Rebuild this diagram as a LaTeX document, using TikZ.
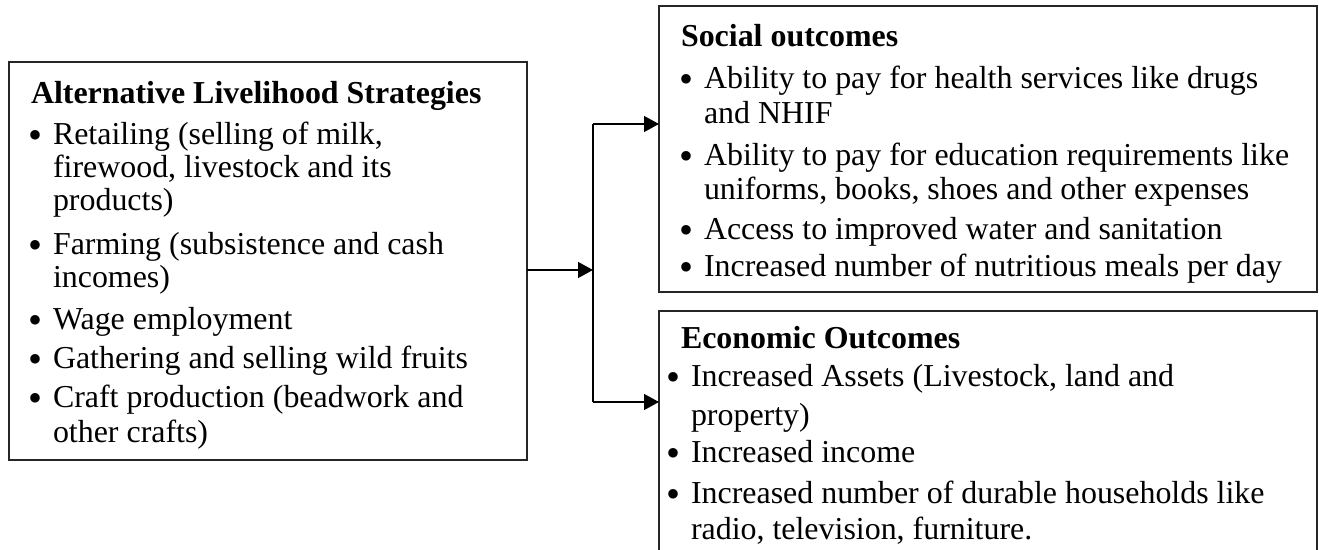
\documentclass[tikz,border=0pt]{standalone}
\usepackage{fontspec}
\setmainfont{Liberation Serif}
\usetikzlibrary{arrows.meta,fit}
\begin{document}
\begin{tikzpicture}[x=0.3759pt,y=-0.3759pt,
  every node/.style={font=\fontsize{12pt}{14pt}\selectfont},
  txt/.style={anchor=base west,inner sep=0pt,outer sep=0pt},
  ttl/.style={txt,font=\fontsize{12pt}{14pt}\selectfont\bfseries},
  bul/.style={anchor=base,inner sep=0pt,outer sep=0pt,yshift=-1.2pt,font=\fontsize{15pt}{15pt}\selectfont},
  box/.style={draw=black!85,line width=0.7pt,inner sep=0pt,outer sep=0pt},
  conn/.style={line width=0.75pt,black},
  arr/.style={conn,-{Triangle[length=5.6pt,width=5.9pt]}}]
\useasboundingbox (0,0) rectangle (1319,550);

% boxes
\node[box,fit={(9,62) (527,460)}] (L) {};
\node[box,fit={(659,6) (1317,292)}] (S) {};
\node[inner sep=0pt,outer sep=0pt,fit={(659,311) (1317,552)}] (E) {};
\draw[draw=black!85,line width=0.7pt] (E.south west) |- (E.north east) -- (E.south east);

% left box text
\node[ttl] (l0) at (31,104) {Alternative Livelihood Strategies};
\node[bul] (lb1) at (35,145) {\textbullet};
\node[txt] (l1) at (53,145) {Retailing (selling of milk,};
\node[txt] (l2) at (53,178) {firewood, livestock and its};
\node[txt] (l3) at (53,211) {products)};
\node[bul] (lb2) at (35,255) {\textbullet};
\node[txt] (l4) at (53,255) {Farming (subsistence and cash};
\node[txt] (l5) at (53,288) {incomes)};
\node[bul] (lb3) at (35,330) {\textbullet};
\node[txt] (l6) at (53,330) {Wage employment};
\node[bul] (lb4) at (35,369) {\textbullet};
\node[txt] (l7) at (53,369) {Gathering and selling wild fruits};
\node[bul] (lb5) at (35,408) {\textbullet};
\node[txt] (l8) at (53,408) {Craft production (beadwork and};
\node[txt] (l9) at (53,443) {other crafts)};

% social box text
\node[ttl] (s0) at (681,47) {Social outcomes};
\node[bul] (sb1) at (686,89) {\textbullet};
\node[txt] (s1) at (704,89) {Ability to pay for health services like drugs};
\node[txt] (s2) at (704,124) {and NHIF};
\node[bul] (sb2) at (686,166) {\textbullet};
\node[txt] (s3) at (704,166) {Ability to pay for education requirements like};
\node[txt] (s4) at (704,200) {uniforms, books, shoes and other expenses};
\node[bul] (sb3) at (686,240) {\textbullet};
\node[txt] (s5) at (704,240) {Access to improved water and sanitation};
\node[bul] (sb4) at (686,277) {\textbullet};
\node[txt] (s6) at (704,277) {Increased number of nutritious meals per day};

% economic box text
\node[ttl] (e0) at (681,349) {Economic Outcomes};
\node[bul] (eb1) at (673,387) {\textbullet};
\node[txt] (e1) at (691,387) {Increased Assets (Livestock, land and};
\node[txt] (e2) at (691,426) {property)};
\node[bul] (eb2) at (673,463) {\textbullet};
\node[txt] (e3) at (691,463) {Increased income};
\node[bul] (eb3) at (673,504) {\textbullet};
\node[txt] (e4) at (691,504) {Increased number of durable households like};
\node[txt] (e5) at (691,540) {radio, television, furniture.};

% connectors
\coordinate (jn) at (593,270);
\coordinate (jt) at (593,124);
\coordinate (jb) at (593,402);
\draw[arr] (L.east |- jn) -- (jn);
\draw[conn] (jt) -- (jb);
\draw[arr] (jt) -- (jt -| S.west);
\draw[arr] (jb) -- (jb -| E.west);
\end{tikzpicture}
\end{document}
